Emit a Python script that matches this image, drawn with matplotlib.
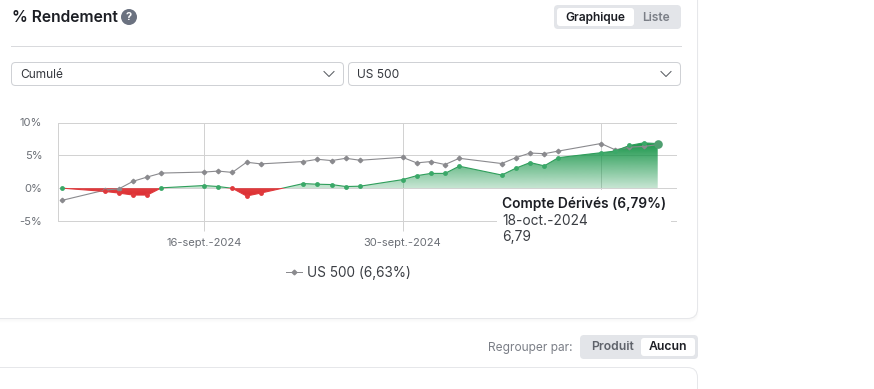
#!/usr/bin/env python3
"""Cumulative return card: account vs US 500, with the page controls around it."""
import matplotlib
matplotlib.use("Agg")
import matplotlib.dates as mdates
import matplotlib.pyplot as plt
import numpy as np
from matplotlib.patches import Circle, FancyBboxPatch, Rectangle
from matplotlib.path import Path

plt.rcParams["font.family"] = ["Inter", "DejaVu Sans"]

W, H = 874, 389

dates = np.array([
    "2024-09-06", "2024-09-09", "2024-09-10", "2024-09-11", "2024-09-12", "2024-09-13",
    "2024-09-16", "2024-09-17", "2024-09-18", "2024-09-19", "2024-09-20",
    "2024-09-23", "2024-09-24", "2024-09-25", "2024-09-26", "2024-09-27",
    "2024-09-30", "2024-10-01", "2024-10-02", "2024-10-03", "2024-10-04",
    "2024-10-07", "2024-10-08", "2024-10-09", "2024-10-10", "2024-10-11",
    "2024-10-14", "2024-10-15", "2024-10-16", "2024-10-17", "2024-10-18",
], dtype="datetime64[D]")
account = np.array([
    0.0, -0.5, -0.75, -1.05, -1.05, 0.05,
    0.4, 0.25, -0.02, -1.2, -0.75,
    0.7, 0.6, 0.55, 0.25, 0.3,
    1.3, 1.9, 2.25, 2.25, 3.35,
    2.0, 3.05, 3.9, 3.4, 4.65,
    5.4, 5.65, 6.5, 6.9, 6.79,
])
us500 = np.array([
    -1.85, -0.3, -0.1, 1.05, 1.7, 2.3,
    2.45, 2.6, 2.4, 3.95, 3.7,
    4.05, 4.4, 4.2, 4.55, 4.25,
    4.7, 3.85, 4.05, 3.6, 4.55,
    3.75, 4.65, 5.35, 5.25, 5.65,
    6.8, 5.85, 6.25, 6.35, 6.63,
])
y_ticks = [-5, 0, 5, 10]
y_labels = ["-5%", "0%", "5%", "10%"]
x_ticks = np.array(["2024-09-16", "2024-09-30", "2024-10-14"], dtype="datetime64[D]")
x_labels = ["16-sept.-2024", "30-sept.-2024", ""]

PX = 0.72  # one pixel in points at dpi 100
GRID = "#d2d2d2"
BORDER = "#cfd1d5"
SEG_BG = "#e3e5e9"
GREEN = "#2f9e5b"
RED = "#e0393c"
GREY = "#8a8a8e"
DARK = "#1c1e24"
MUTED = "#6b6f76"


def rrect(ax, x0, y0, x1, y1, r, fc, ec="none", lw=PX, z=1, alpha=None):
    ax.add_patch(FancyBboxPatch((x0 + r, y0 + r), x1 - x0 - 2 * r, y1 - y0 - 2 * r,
                                boxstyle=f"round,pad={r},rounding_size={r}",
                                fc=fc, ec=ec, lw=lw, zorder=z, alpha=alpha))


def chevron(ax, cx, cy):
    ax.plot([cx - 5, cx, cx + 5], [cy - 2.5, cy + 2.5, cy - 2.5], color="#55585e", lw=PX)


def gradient_fill(ax, where, rgb, a_top, a_bottom, y0, y1, xlim):
    # fill_between gives the zero crossings, the image is clipped to its polygons
    poly = ax.fill_between(dates, account, 0, where=where, interpolate=True, color="none")
    clip = Path.make_compound_path(*poly.get_paths())
    img = np.zeros((256, 1, 4))
    img[..., :3] = matplotlib.colors.to_rgb(rgb)
    img[..., 3] = np.linspace(a_top, a_bottom, 256)[:, None]
    im = ax.imshow(img, extent=[xlim[0], xlim[1], y0, y1], aspect="auto", origin="upper",
                   interpolation="bilinear", zorder=2)
    im.set_clip_path(clip, transform=ax.transData)


fig = plt.figure(figsize=(W / 100, H / 100), dpi=100, facecolor="white")

# page furniture, in pixel coordinates
ui = fig.add_axes([0, 0, 1, 1], zorder=0)
ui.set_xlim(0, W)
ui.set_ylim(H, 0)
ui.axis("off")

# faint card shadow
for grow in (1, 2, 3, 4):
    rrect(ui, -30, -30, 697.5 + grow * 0.3, 318.5 + grow, 10, "black", z=0.5, alpha=0.006)
rrect(ui, -30, -30, 697.5, 318.5, 10, "white", "#e6e7ea")
rrect(ui, -30, 367.5, 697.5, 420, 10, "white", "#e6e7ea")

ui.text(12, 17, "% Rendement", fontsize=11.3, fontweight="semibold", color=DARK, va="center")
ui.add_patch(Circle((129, 17), 8, fc="#6b7280", ec="none"))
ui.text(129, 17.3, "?", fontsize=8, fontweight="bold", color="white", ha="center", va="center")

rrect(ui, 554, 5, 681, 29, 4, SEG_BG)
rrect(ui, 557, 8, 634, 26, 3, "white", z=2)
ui.text(595.5, 17.5, "Graphique", fontsize=8.6, fontweight="semibold", color=DARK, ha="center", va="center", zorder=3)
ui.text(656, 17.5, "Liste", fontsize=8.6, fontweight="semibold", color="#7b7f87", ha="center", va="center", zorder=3)

ui.plot([11, 681], [45.5, 45.5], color="#d9dadd", lw=PX)

rrect(ui, 11.5, 62.5, 343.5, 85.5, 4, "white", BORDER)
rrect(ui, 348.5, 62.5, 680.5, 85.5, 4, "white", BORDER)
ui.text(20, 74.5, "Cumulé", fontsize=8.6, color="#34373d", va="center")
ui.text(357, 74.5, "US 500", fontsize=8.6, color="#34373d", va="center")
chevron(ui, 329, 74)
chevron(ui, 666, 74)

ui.text(573, 347.5, "Regrouper par:", fontsize=8.6, color="#7b7f87", ha="right", va="center")
rrect(ui, 580, 335, 698, 359, 4, SEG_BG)
rrect(ui, 641, 338, 695, 356, 3, "white", z=2)
ui.text(612, 347.5, "Produit", fontsize=8.8, fontweight="semibold", color="#5f636b", ha="center", va="center", zorder=3)
ui.text(668, 347.5, "Aucun", fontsize=8.8, fontweight="semibold", color=DARK, ha="center", va="center", zorder=3)

# chart
L, R, T, B = 57.5, 676.0, 122.5, 221.0
ax = fig.add_axes([L / W, 1 - B / H, (R - L) / W, (B - T) / H], zorder=1)
ax.patch.set_alpha(0)

px_per_day = (601 - 204) / 28
tick0 = mdates.date2num(x_ticks[0])
xlim = (tick0 - (204 - L) / px_per_day, tick0 + (R - 204) / px_per_day)

gradient_fill(ax, account >= 0, "#179548", 1.0, 0.24, 0, account.max(), xlim)
gradient_fill(ax, account <= 0, "#dd2c2f", 0.92, 1.0, account.min(), 0, xlim)

ax.plot(dates, us500, color=GREY, lw=0.8, marker="D", ms=2.3, mec=GREY, mfc=GREY, zorder=3)

# the account line turns red under zero
up, = ax.plot(dates, account, color=GREEN, lw=0.8, zorder=4)
down, = ax.plot(dates, account, color=RED, lw=0.8, zorder=4)
up.set_clip_path(Rectangle((xlim[0], 0), xlim[1] - xlim[0], 10, transform=ax.transData))
down.set_clip_path(Rectangle((xlim[0], -5), xlim[1] - xlim[0], 5, transform=ax.transData))

neg = account < 0
ax.plot(dates[~neg][:-1], account[~neg][:-1], ls="none", marker="o", ms=3.5, mec="none", mfc="#3aa868", zorder=4)
ax.plot(dates[neg], account[neg], ls="none", marker="o", ms=3.5, mec="none", mfc=RED, zorder=4)
ax.plot(dates[-1:], account[-1:], ls="none", marker="o", ms=6.2, mec="none", mfc="#4f9f70", zorder=5, clip_on=False)

ax.set_xlim(xlim)
ax.set_ylim(-5, 10)
ax.set_yticks(y_ticks, y_labels)
ax.set_xticks(x_ticks, x_labels)
ax.grid(True, color=GRID, lw=PX, clip_on=False)
ax.set_axisbelow(True)
for side in ("top", "right", "bottom"):
    ax.spines[side].set_visible(False)
ax.spines["left"].set_color(GRID)
ax.spines["left"].set_linewidth(PX)
ax.tick_params(axis="y", length=0, pad=11, labelsize=8, labelcolor=MUTED)
ax.tick_params(axis="x", length=7.5, width=PX, color=GRID, pad=5, labelsize=8, labelcolor=MUTED)

# tooltip and legend sit above the chart
top = fig.add_axes([0, 0, 1, 1], zorder=2)
top.set_xlim(0, W)
top.set_ylim(H, 0)
top.axis("off")
top.patch.set_alpha(0)

top.add_patch(Rectangle((497, 190), 174, 56, fc="white", ec="none"))
top.text(502, 203.5, "Compte Dérivés (6,79%)", fontsize=9.9, fontweight="semibold", color=DARK, va="center")
top.text(502, 220.5, "18-oct.-2024", fontsize=9.9, color="#3b3e44", va="center")
top.text(502, 236.5, "6,79", fontsize=9.9, color="#3b3e44", va="center")

top.plot([286, 302], [272, 272], color=GREY, lw=PX)
top.plot([294], [272], ls="none", marker="D", ms=2.4, color=GREY)
top.text(307, 272.5, "US 500 (6,63%)", fontsize=9.8, color="#3b3e44", va="center")

fig.savefig("out.png", dpi=100)
